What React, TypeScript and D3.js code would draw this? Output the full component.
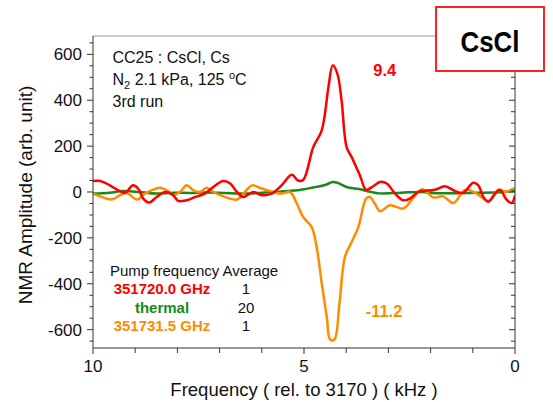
import React from "react";
import * as d3 from "d3";

const redX = [10.0, 9.83, 9.6, 9.4, 9.24, 9.05, 8.93, 8.81, 8.67, 8.49, 8.29, 8.1, 7.98, 7.78, 7.58, 7.35, 7.15, 6.91, 6.75, 6.59, 6.44, 6.2, 6.0, 5.77, 5.53, 5.29, 5.14, 5.02, 4.78, 4.58, 4.42, 4.32, 4.21, 4.11, 3.99, 3.87, 3.67, 3.53, 3.36, 3.2, 3.04, 2.84, 2.65, 2.49, 2.3, 2.18, 1.9, 1.66, 1.42, 1.23, 0.99, 0.87, 0.75, 0.63, 0.47, 0.36, 0.2, 0.08, 0.0];
const redY = [48, 48, 29, 7, -3, 29, 15, -29, -46, -22, 0, -14, -39, -36, -22, -7, 22, 48, 37, 0, -22, 0, -14, -7, 29, 75, 50, 52, 196, 269, 458, 552, 516, 400, 196, 152, 70, 10, 25, 44, 37, -7, -36, -29, 0, 5, 10, 25, 4, -4, 40, 29, -22, -42, -7, 10, -33, -48, -15];

const orangeX = [10.0, 9.83, 9.56, 9.36, 9.2, 8.96, 8.77, 8.57, 8.41, 8.22, 8.1, 7.94, 7.78, 7.62, 7.46, 7.31, 7.15, 6.91, 6.59, 6.4, 6.23, 6.0, 5.73, 5.53, 5.33, 5.17, 5.02, 4.82, 4.7, 4.58, 4.46, 4.38, 4.28, 4.16, 4.03, 3.87, 3.71, 3.53, 3.44, 3.32, 3.2, 2.96, 2.65, 2.42, 2.21, 2.09, 1.93, 1.7, 1.46, 1.18, 0.91, 0.63, 0.39, 0.2, 0.04, 0.0];
const orangeY = [-7, -19, -33, -14, -4, -33, -7, 10, 19, 4, -14, 0, 29, 7, 0, 19, 0, -19, -33, 0, 29, 15, 0, -7, 0, -50, -109, -152, -240, -398, -545, -643, -643, -486, -283, -218, -152, -29, -22, -51, -84, -58, -72, -28, 12, 0, -24, -19, -48, 10, -7, -39, 10, 0, 15, 10];

const greenX = [10.0, 9.6, 9.3, 8.9, 8.5, 8.1, 7.7, 7.3, 6.9, 6.35, 5.73, 5.3, 5.0, 4.78, 4.6, 4.45, 4.32, 4.2, 3.99, 3.8, 3.67, 3.53, 3.2, 2.7, 2.2, 1.9, 1.4, 0.9, 0.5, 0.0];
const greenY = [-7, -3, 4, 0, -7, -3, -4, -2, -4, -7, 0, 5, 12, 20, 26, 34, 44, 40, 22, 15, 12, 5, -6, -3, 0, -5, -5, -3, -2, 4];

const xTicks = [10, 5, 0];
const yTicks = [600, 400, 200, 0, -200, -400, -600];

const legendRows = [
  { label: "351720.0 GHz", avg: "1", color: "#ff0000" },
  { label: "thermal", avg: "20", color: "#178a17" },
  { label: "351731.5 GHz", avg: "1", color: "#ff8c00" },
];

const W = 553, H = 402;
const L = 93, R = 515, T = 36, B = 348;
const FONT = "'Liberation Sans', Arial, sans-serif";

export default function App() {
  const x = d3.scaleLinear().domain([10, 0]).range([L, R]);
  const y = d3.scaleLinear().domain([680, -680]).range([T, B]);
  const line = d3
    .line<[number, number]>()
    .x((d) => x(d[0]))
    .y((d) => y(d[1]))
    .curve(d3.curveCatmullRom.alpha(0.5));

  const mk = (xs: number[], ys: number[]) => xs.map((v, i) => [v, ys[i]] as [number, number]);

  const yMinor = d3.range(-650, 651, 50).filter((v) => v % 200 !== 0);
  const xMinor = d3.range(0, 11, 1).filter((v) => v % 5 !== 0);

  return (
    <svg width={W} height={H} style={{ position: "absolute", left: 0, top: 0, background: "#fff" }} fontFamily={FONT}>
      <defs>
        <clipPath id="plot">
          <rect x={L} y={T} width={R - L} height={B - T} />
        </clipPath>
      </defs>
      {/* series */}
      <g clipPath="url(#plot)" fill="none" strokeWidth={2.5} strokeLinejoin="round">
        <path d={line(mk(greenX, greenY)) || ""} stroke="#178a17" />
        <path d={line(mk(orangeX, orangeY)) || ""} stroke="#ff8c00" />
        <path d={line(mk(redX, redY)) || ""} stroke="#ff0000" />
      </g>

      {/* frame */}
      <line x1={L} x2={R} y1={T} y2={T} stroke="#999" strokeWidth={1} />
      <line x1={L} x2={L} y1={T} y2={B} stroke="#333" strokeWidth={1} />
      <line x1={R} x2={R} y1={T} y2={B} stroke="#333" strokeWidth={1} />
      <line x1={L} x2={R} y1={B} y2={B} stroke="#333" strokeWidth={1} />

      {/* left axis ticks */}
      {yTicks.map((t) => (
        <g key={"yt" + t}>
          <line x1={L - 6} x2={L} y1={y(t)} y2={y(t)} stroke="#333" />
          <line x1={R - 6} x2={R} y1={y(t)} y2={y(t)} stroke="#333" />
          <text x={82} y={y(t)} dy="0.36em" textAnchor="end" fontSize={17} fill="#111">
            {t}
          </text>
        </g>
      ))}
      {yMinor.map((t) => (
        <g key={"ym" + t}>
          <line x1={L - 3.5} x2={L} y1={y(t)} y2={y(t)} stroke="#333" />
          <line x1={R - 4} x2={R} y1={y(t)} y2={y(t)} stroke="#333" />
        </g>
      ))}

      {/* bottom axis */}
      {xTicks.map((t) => (
        <g key={"xt" + t}>
          <line x1={x(t)} x2={x(t)} y1={B} y2={B + 6} stroke="#333" />
          <text x={x(t)} y={372} textAnchor="middle" fontSize={17} fill="#111">
            {t}
          </text>
        </g>
      ))}
      {xMinor.map((t) => (
        <line key={"xm" + t} x1={x(t)} x2={x(t)} y1={B} y2={B + 5} stroke="#333" />
      ))}

      <text x={304} y={396} textAnchor="middle" fontSize={18.5} fill="#111">
        Frequency ( rel. to 3170 ) ( kHz )
      </text>
      <text transform="translate(32,195) rotate(-90)" textAnchor="middle" fontSize={19} fill="#111">
        NMR Amplitude (arb. unit)
      </text>

      {/* info text */}
      <g fontSize={16} fill="#111">
        <text x={112.5} y={63}>CC25 : CsCl, Cs</text>
        <text x={112.5} y={85}>
          N<tspan fontSize={11} dy={4}>2</tspan>
          <tspan dy={-4}> 2.1 kPa, 125 </tspan>
          <tspan fontSize={11} dy={-6}>o</tspan>
          <tspan dy={6}>C</tspan>
        </text>
        <text x={112.5} y={107}>3rd run</text>
      </g>

      {/* legend */}
      <text x={110} y={276} fontSize={15} fill="#111">
        Pump frequency Average
      </text>
      {legendRows.map((r, i) => (
        <g key={r.label}>
          <text x={162} y={294 + i * 18.5} textAnchor="middle" fontSize={15} fontWeight="bold" fill={r.color}>
            {r.label}
          </text>
          <text x={246} y={294 + i * 18.5} textAnchor="middle" fontSize={15} fill="#111">
            {r.avg}
          </text>
        </g>
      ))}

      {/* annotations */}
      <text x={384.7} y={76} textAnchor="middle" fontSize={16.5} fontWeight="bold" fill="#ff0000">
        9.4
      </text>
      <text x={384} y={317} textAnchor="middle" fontSize={16.5} fontWeight="bold" fill="#ff8c00">
        -11.2
      </text>

      {/* CsCl box */}
      <rect x={436} y={7} width={108} height={64} fill="#fff" stroke="#ff2020" strokeWidth={2} />
      <text x={490} y={52} textAnchor="middle" fontSize={30} fontWeight="bold" fill="#000" textLength={59} lengthAdjust="spacingAndGlyphs">
        CsCl
      </text>
    </svg>
  );
}
